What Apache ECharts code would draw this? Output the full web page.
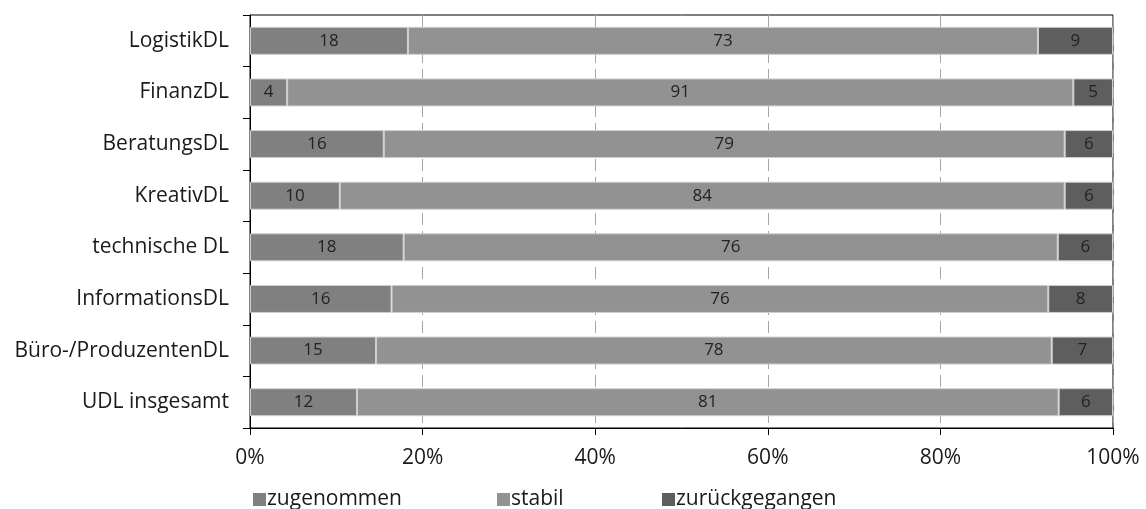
<!DOCTYPE html>
<html><head><meta charset="utf-8">
<script src="https://cdn.jsdelivr.net/npm/echarts@6/dist/echarts.min.js"></script>
<style>html,body{margin:0;padding:0;background:#fff}#c{width:1146px;height:509px}</style>
</head><body><div id="c"></div>
<script>
const categories = ["LogistikDL","FinanzDL","BeratungsDL","KreativDL","technische DL","InformationsDL","Büro-/ProduzentenDL","UDL insgesamt"];
const zugenommen = [18.3, 4.3, 15.5, 10.4, 17.8, 16.4, 14.6, 12.4];
const stabil = [73.0, 91.1, 78.9, 84.0, 75.8, 76.1, 78.3, 81.3];
const zurueckgegangen = [8.7, 4.6, 5.6, 5.6, 6.4, 7.5, 7.1, 6.3];
const seriesNames = ["zugenommen","stabil","zurückgegangen"];
const colors = ["#808080","#929292","#5e5e5e"];
const FONT = "Open Sans";

const chart = echarts.init(document.getElementById('c'));
function mk(name, data, color){
  return {
    name, type:'bar', stack:'t', data, barWidth:28,
    itemStyle:{color, borderColor:'#cfcfcf', borderWidth:1},
    label:{show:true, position:'inside', fontFamily:FONT, fontSize:17, color:'#222',
      formatter: p => Math.round(p.value)},
    emphasis:{disabled:true}
  };
}
const legendBase = {top:484, itemWidth:13, itemHeight:13, itemGap:0, icon:'rect',
  itemStyle:{borderWidth:0},
  textStyle:{fontFamily:FONT, fontSize:21, color:'#1a1a1a', padding:[0,0,0,-4]}};
chart.setOption({
  animation:false,
  grid:{left:250, right:33, top:15, bottom:81, show:true, borderColor:'#000', borderWidth:1},
  legend:[
    Object.assign({}, legendBase, {data:[seriesNames[0]], left:248}),
    Object.assign({}, legendBase, {data:[seriesNames[1]], left:492}),
    Object.assign({}, legendBase, {data:[seriesNames[2]], left:657})
  ],
  xAxis:{type:'value', min:0, max:100, interval:20,
    axisLine:{show:true, lineStyle:{color:'#000'}},
    axisTick:{show:true, length:7, lineStyle:{color:'#000'}},
    axisLabel:{formatter:'{value}%', fontFamily:FONT, fontSize:21, color:'#1a1a1a', margin:20},
    splitLine:{show:true, lineStyle:{color:'#a6a6a6', type:[12,6]}}
  },
  yAxis:{type:'category', data:categories, inverse:true,
    axisLine:{show:true, lineStyle:{color:'#000'}},
    axisTick:{show:true, length:7, lineStyle:{color:'#000'}},
    axisLabel:{fontFamily:FONT, fontSize:21, color:'#1a1a1a', margin:21}
  },
  series:[mk(seriesNames[0], zugenommen, colors[0]), mk(seriesNames[1], stabil, colors[1]), mk(seriesNames[2], zurueckgegangen, colors[2])]
});
</script></body></html>
